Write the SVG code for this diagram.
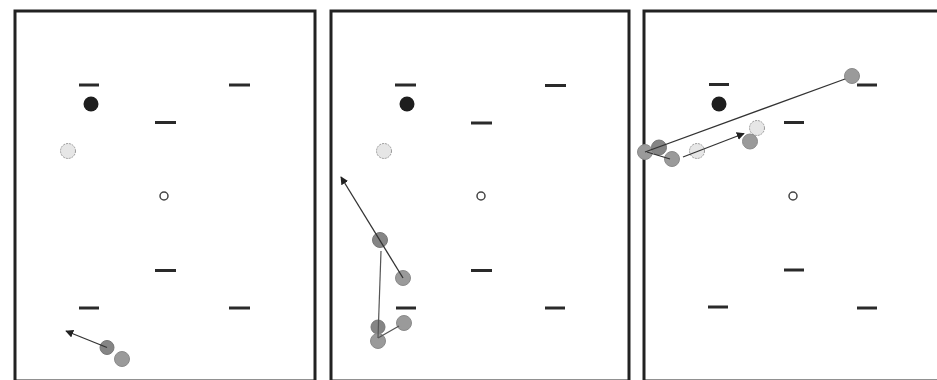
<svg xmlns="http://www.w3.org/2000/svg" width="937" height="380" viewBox="0 0 937 380">
<defs>
<style>
.panel{fill:#fff;stroke:#222;stroke-width:3}
.dash{stroke:#2a2a2a;stroke-width:3;stroke-linecap:butt}
.blk{fill:#1e1e1e}
.open{fill:#fff;stroke:#444;stroke-width:1.5}
.lt{fill:#e6e6e6;stroke:#999;stroke-width:1;stroke-dasharray:2 1}
.g{fill:#9a9a9a;stroke:#8a8a8a;stroke-width:1}
.gd{fill:#858585;stroke:#777;stroke-width:1}
.ln{stroke:#333;stroke-width:1.3;fill:none}
.lg{stroke:#555;stroke-width:1.2;fill:none}
</style>
<marker id="ah" viewBox="0 0 10 10" refX="9" refY="5" markerWidth="8" markerHeight="8" markerUnits="userSpaceOnUse" orient="auto">
<path d="M0,0 L10,5 L0,10 z" fill="#222"/>
</marker>
</defs>
<rect width="937" height="380" fill="#fff"/>

<g id="panel1">
<rect class="panel" x="15" y="11" width="300" height="370"/>
<line class="dash" x1="79" y1="85" x2="99" y2="85"/>
<line class="dash" x1="229" y1="85" x2="250" y2="85"/>
<line class="dash" x1="155" y1="122.5" x2="176" y2="122.5"/>
<line class="dash" x1="155" y1="270.5" x2="176" y2="270.5"/>
<line class="dash" x1="79" y1="308" x2="99" y2="308"/>
<line class="dash" x1="229" y1="308" x2="250" y2="308"/>
<circle class="blk" cx="91" cy="104" r="7.5"/>
<circle class="lt" cx="68" cy="151" r="7.5"/>
<circle class="open" cx="164" cy="196" r="4"/>
</g>

<g id="panel2">
<rect class="panel" x="331" y="11" width="298" height="370"/>
<line class="dash" x1="395" y1="85" x2="416" y2="85"/>
<line class="dash" x1="545" y1="85.5" x2="566" y2="85.5"/>
<line class="dash" x1="471" y1="123" x2="492" y2="123"/>
<line class="dash" x1="471" y1="270.5" x2="492" y2="270.5"/>
<line class="dash" x1="396" y1="308" x2="416" y2="308"/>
<line class="dash" x1="545" y1="308" x2="565" y2="308"/>
<circle class="blk" cx="407" cy="104" r="7.5"/>
<circle class="lt" cx="384" cy="151" r="7.5"/>
<circle class="open" cx="481" cy="196" r="4"/>
</g>

<g id="panel3">
<rect class="panel" x="644" y="11" width="300" height="370"/>
<line class="dash" x1="709" y1="84.5" x2="729" y2="84.5"/>
<line class="dash" x1="857" y1="85" x2="877" y2="85"/>
<line class="dash" x1="784" y1="122.5" x2="804" y2="122.5"/>
<line class="dash" x1="784" y1="270" x2="804" y2="270"/>
<line class="dash" x1="708" y1="307" x2="728" y2="307"/>
<line class="dash" x1="857" y1="308" x2="877" y2="308"/>
<circle class="blk" cx="719" cy="104" r="7.5"/>
<circle class="open" cx="793" cy="196" r="4"/>
</g>

<g id="tokens">
<circle class="gd" cx="107" cy="347.5" r="7"/>
<circle class="g" cx="122" cy="359" r="7.5"/>
<circle class="gd" cx="380" cy="240" r="7.5"/>
<circle class="g" cx="403" cy="278" r="7.5"/>
<circle class="gd" cx="378" cy="327" r="7"/>
<circle class="g" cx="404" cy="323" r="7.5"/>
<circle class="g" cx="378" cy="341" r="7.5"/>
<circle class="g" cx="852" cy="76" r="7.5"/>
<circle class="g" cx="645" cy="152" r="7.5"/>
<circle class="gd" cx="659" cy="147.5" r="7.5"/>
<circle class="g" cx="672" cy="159" r="7.5"/>
<circle class="lt" cx="697" cy="151" r="7.5"/>
<circle class="lt" cx="757" cy="128" r="7.5"/>
<circle class="g" cx="750" cy="141.5" r="7.5"/>
</g>

<g id="connectors">
<line class="ln" x1="107" y1="347.5" x2="66" y2="331" marker-end="url(#ah)"/>
<line class="ln" x1="403" y1="278" x2="341" y2="177" marker-end="url(#ah)"/>
<line class="lg" x1="381" y1="251" x2="378" y2="338"/>
<line class="lg" x1="378" y1="338" x2="399" y2="326"/>
<line class="ln" x1="645" y1="152" x2="845" y2="79"/>
<line class="ln" x1="647" y1="152" x2="670" y2="159"/>
<line class="ln" x1="683" y1="157" x2="744" y2="133.5" marker-end="url(#ah)"/>
</g>
</svg>
